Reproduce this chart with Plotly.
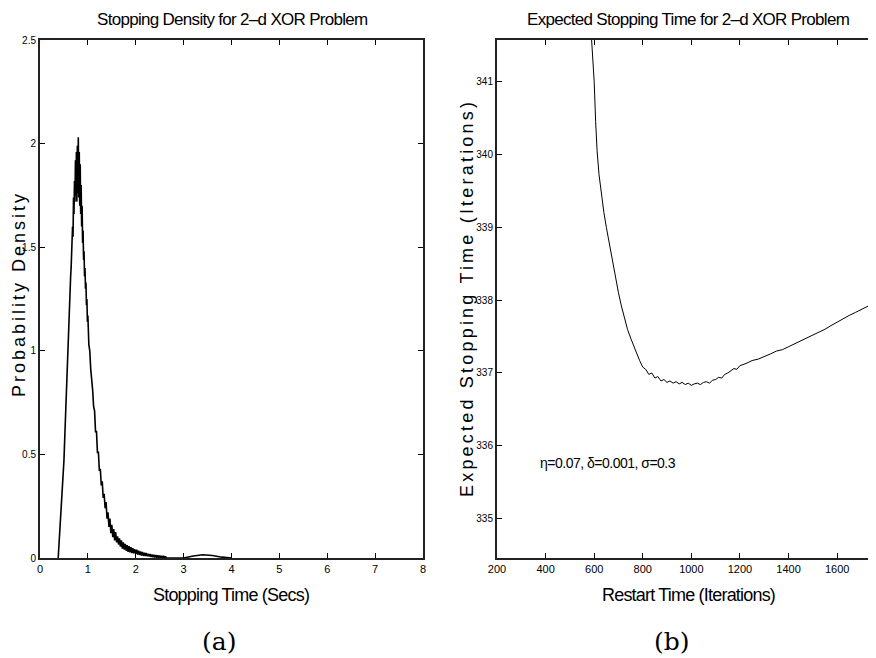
import plotly.graph_objects as go

# ---------------- data: panel (a) stopping density ----------------
dens_x = [0.38, 0.40, 0.42, 0.44, 0.46, 0.48, 0.50, 0.52, 0.54, 0.56,
          0.58, 0.60, 0.62, 0.64, 0.65, 0.66, 0.67, 0.68, 0.69, 0.70,
          0.71, 0.72, 0.73, 0.74, 0.75, 0.76, 0.77, 0.78, 0.79, 0.80,
          0.81, 0.82, 0.83, 0.84, 0.85, 0.86, 0.87, 0.88, 0.89, 0.90,
          0.91, 0.92, 0.93, 0.94, 0.95, 0.96, 0.97, 0.98, 0.99, 1.00,
          1.02, 1.04, 1.06, 1.08, 1.10, 1.12, 1.14, 1.16,
          1.18, 1.20, 1.22, 1.24, 1.26, 1.28, 1.30, 1.32, 1.34, 1.36,
          1.38, 1.40, 1.42, 1.44, 1.46, 1.48, 1.50, 1.52, 1.54, 1.56,
          1.58, 1.60, 1.62, 1.64, 1.66, 1.68, 1.70, 1.72, 1.74, 1.76,
          1.78, 1.80, 1.82, 1.84, 1.86, 1.88, 1.90, 1.92, 1.94, 1.96,
          1.98, 2.00, 2.02, 2.04, 2.06, 2.08, 2.10, 2.12, 2.14, 2.16,
          2.18, 2.20, 2.22, 2.24, 2.26, 2.28, 2.30, 2.32, 2.34, 2.36,
          2.38, 2.40, 2.42, 2.44, 2.46, 2.48, 2.50, 2.52, 2.54, 2.56,
          2.58, 2.60, 2.62, 2.64, 2.90, 3.00, 3.20, 3.40, 3.60, 3.80, 4.00]
dens_y = [0.00, 0.07, 0.15, 0.23, 0.32, 0.39, 0.47, 0.60, 0.74, 0.86,
          1.02, 1.08, 1.27, 1.36, 1.40, 1.50, 1.47, 1.60, 1.55, 1.74,
          1.66, 1.82, 1.72, 1.92, 1.75, 1.96, 1.72, 1.99, 1.76, 2.03,
          1.74, 1.96, 1.70, 1.90, 1.66, 1.80, 1.60, 1.70, 1.52, 1.58,
          1.44, 1.48, 1.36, 1.40, 1.30, 1.33, 1.22, 1.25, 1.14, 1.17,
          1.03, 1.00, 0.91, 0.87, 0.81, 0.73, 0.71, 0.61,
          0.61, 0.51, 0.51, 0.42, 0.43, 0.35, 0.37, 0.29, 0.31, 0.24,
          0.27, 0.19, 0.22, 0.15, 0.19, 0.12, 0.16, 0.10, 0.14, 0.085,
          0.125, 0.075, 0.105, 0.065, 0.095, 0.055, 0.085, 0.045, 0.075, 0.04,
          0.068, 0.035, 0.062, 0.03, 0.057, 0.027, 0.052, 0.024, 0.047, 0.022,
          0.042, 0.02, 0.04, 0.017, 0.035, 0.014, 0.032, 0.012, 0.029, 0.01,
          0.026, 0.009, 0.024, 0.008, 0.021, 0.007, 0.019, 0.005, 0.017, 0.004,
          0.015, 0.003, 0.014, 0.002, 0.013, 0.002, 0.012, 0.001, 0.011, 0.001,
          0.01, 0.0, 0.008, 0.0, 0.0, 0.0, 0.01, 0.016, 0.012, 0.004, 0.0]

# ---------------- data: panel (b) expected stopping time ----------------
restart_x = [588, 594, 600, 606, 612, 620, 630, 640, 650, 662, 675, 687,
             700, 712, 725, 737, 750, 762, 775, 787,
             800, 812, 825, 837, 850, 862, 875, 887, 900, 912, 925, 937,
             950, 962, 975, 987, 1000, 1012, 1025, 1037, 1050, 1062, 1075,
             1087, 1100, 1112, 1125, 1137, 1150, 1162, 1175, 1187, 1200,
             1225, 1250, 1275, 1300, 1325, 1350, 1375, 1400, 1425, 1450,
             1475, 1500, 1525, 1550, 1575, 1600, 1625, 1650, 1675, 1700,
             1725, 1750, 1765]
expected_y = [341.65, 341.3, 341.0, 340.45, 340.05, 339.72, 339.45, 339.2,
              339.0, 338.77, 338.55, 338.32, 338.1, 337.92, 337.75, 337.6,
              337.48, 337.37, 337.25, 337.17, 337.08, 337.05, 336.98, 337.0,
              336.93, 336.95, 336.89, 336.91, 336.87, 336.89, 336.86, 336.88,
              336.85, 336.87, 336.84, 336.86, 336.83, 336.85, 336.86, 336.84,
              336.87, 336.88, 336.86, 336.9, 336.91, 336.94, 336.93, 336.98,
              337.0, 337.03, 337.06, 337.05, 337.1, 337.13, 337.17, 337.19,
              337.22, 337.26, 337.3, 337.32, 337.36, 337.4, 337.44, 337.47,
              337.52, 337.56, 337.6, 337.65, 337.7, 337.74, 337.79, 337.83,
              337.87, 337.91, 337.95, 337.98]

x1_ticks = [0, 1, 2, 3, 4, 5, 6, 7, 8]
y1_ticks = [0, 0.5, 1, 1.5, 2, 2.5]
y1_labels = ["0", "0.5", "1", "1.5", "2", "2.5"]
x2_ticks = [200, 400, 600, 800, 1000, 1200, 1400, 1600]
y2_ticks = [335, 336, 337, 338, 339, 340, 341]

# the page body has an 8px default margin: the figure covers page pixels 8..876 / 8..658
OFF = 8
W, H = 876 - OFF, 658 - OFF
SANS = "Liberation Sans, Arial, Helvetica, sans-serif"
SERIF = "DejaVu Serif, Liberation Serif, serif"

def px(x):
    return (x - OFF) / W

def py(y):
    return 1 - (y - OFF) / H

fig = go.Figure()
fig.add_trace(go.Scatter(x=dens_x, y=dens_y, mode="lines",
                         line=dict(color="black", width=1.6),
                         xaxis="x", yaxis="y", showlegend=False))
fig.add_trace(go.Scatter(x=restart_x, y=expected_y, mode="lines",
                         line=dict(color="black", width=1),
                         xaxis="x2", yaxis="y2", showlegend=False))

axis_common = dict(showgrid=False, zeroline=False, ticks="inside", ticklen=5,
                   tickwidth=1, tickcolor="black", showline=True, linewidth=2,
                   linecolor="#222", mirror="ticks", automargin=False,
                   tickfont=dict(family=SANS, size=11, color="black"))
yfont = dict(family=SANS, size=10, color="black")

fig.update_layout(
    width=W, height=H, margin=dict(l=0, r=0, t=0, b=0),
    paper_bgcolor="white", plot_bgcolor="white", showlegend=False,
    xaxis=dict(domain=[px(40), px(423)], range=[0, 8], tickvals=x1_ticks,
               anchor="y", **axis_common),
    yaxis=dict(domain=[py(558), py(40)], range=[0, 2.5], tickvals=y1_ticks,
               ticktext=y1_labels, anchor="x", **{**axis_common, "tickfont": yfont}),
    xaxis2=dict(domain=[px(497), 1.0], range=[200, 1760], tickvals=x2_ticks,
                anchor="y2", **axis_common),
    yaxis2=dict(domain=[py(558), py(40)], range=[334.46, 341.57], tickvals=y2_ticks,
                anchor="x2", **{**axis_common, "tickfont": yfont}),
)

def tight(s, sp):
    return f'<span style="letter-spacing:{sp}px">{s}</span>'

annots = [
    dict(text=tight("Stopping Density for 2\u2013d XOR Problem", -0.7), x=px(232), y=py(20),
         font=dict(family=SANS, size=17, color="black")),
    dict(text=tight("Expected Stopping Time for 2\u2013d XOR Problem", -0.7), x=px(688), y=py(20),
         font=dict(family=SANS, size=17, color="black")),
    dict(text=tight("Stopping Time (Secs)", -0.8), x=px(231), y=py(595),
         font=dict(family=SANS, size=18, color="black")),
    dict(text=tight("Restart Time (Iterations)", -0.8), x=px(688), y=py(595),
         font=dict(family=SANS, size=18, color="black")),
    dict(text=tight("Probability Density", 3), x=px(19), y=py(294),
         textangle=-90, font=dict(family=SANS, size=18, color="black")),
    dict(text=tight("Expected Stopping Time (Iterations)", 3.2),
         x=px(467), y=py(298), textangle=-90,
         font=dict(family=SANS, size=18, color="black")),
    dict(text="(a)", x=px(219), y=py(641),
         font=dict(family=SERIF, size=25, color="black")),
    dict(text="(b)", x=px(672), y=py(641),
         font=dict(family=SERIF, size=25, color="black")),
]
for a in annots:
    fig.add_annotation(xref="paper", yref="paper", showarrow=False,
                       xanchor="center", yanchor="middle", **a)

fig.add_annotation(text=tight("\u03b7=0.07, \u03b4=0.001, \u03c3=0.3", -0.5), x=369, y=335.76,
                   xref="x2", yref="y2", showarrow=False, xanchor="left",
                   yanchor="middle", font=dict(family=SANS, size=14, color="black"))

fig.write_html("out.html")
